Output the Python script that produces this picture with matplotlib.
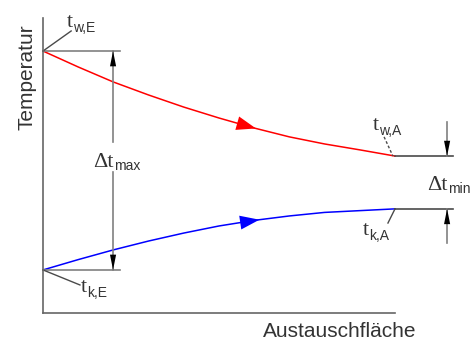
import matplotlib
matplotlib.use("Agg")
import matplotlib.pyplot as plt
import numpy as np

plt.rcParams['font.family'] = ['Liberation Sans', 'DejaVu Sans']

# Austauschfläche (normalised) and temperatures of both streams
area = [0, 0.1, 0.2, 0.3, 0.4, 0.5, 0.6, 0.7, 0.8, 0.9, 1.0]
t_warm = [88.8, 83.4, 78.3, 73.9, 69.8, 66.1, 62.7, 59.7, 57.3, 55.3, 53.2]
t_cold = [14.6, 18.1, 21.4, 24.4, 27.1, 29.5, 31.4, 32.9, 34.1, 34.7, 35.3]

GREY = '#808080'
DARK = '#4a4a4a'
TEXT = '#333333'

fig = plt.figure(figsize=(4.7, 3.4), dpi=100)
ax = fig.add_axes([43 / 470, 27 / 340, 352 / 470, 295 / 340])
ax.set_xlim(0, 1)
ax.set_ylim(0, 100)
for side in ['top', 'right']:
    ax.spines[side].set_visible(False)
for side in ['left', 'bottom']:
    ax.spines[side].set_color('#666666')
    ax.spines[side].set_linewidth(1.2)
ax.set_xticks([])
ax.set_yticks([])

ax.plot(area, t_warm, color='red', lw=1.1, clip_on=False)
ax.plot(area, t_cold, color='blue', lw=1.1, clip_on=False)


def flow_arrow(x, xs, ys, color):
    y0 = np.interp(x - 0.03, xs, ys)
    y1 = np.interp(x + 0.02, xs, ys)
    ax.annotate('', xy=(x + 0.02, y1), xytext=(x - 0.03, y0),
                arrowprops=dict(arrowstyle='-|>,head_length=1.4,head_width=0.5',
                                color=color, lw=0, mutation_scale=10,
                                shrinkA=0, shrinkB=0))


flow_arrow(0.585, area, t_warm, 'red')
flow_arrow(0.595, area, t_cold, 'blue')


def dim_arrow(x, y_from, y_to):
    # grey shaft, black head only at the tip
    ax.plot([x, x], [y_from, y_to], color=GREY, lw=1.2, clip_on=False)
    head = 5.2 * np.sign(y_to - y_from)
    ax.annotate('', xy=(x, y_to), xytext=(x, y_to - head), annotation_clip=False,
                arrowprops=dict(arrowstyle='-|>,head_length=1.1,head_width=0.22',
                                color='black', lw=0, mutation_scale=10,
                                shrinkA=0, shrinkB=0))


def sub_label(x, y, main, sub, dx, dy=-3.6, size=16, sub_size=10):
    # serif symbol with a sans-serif index set beside it
    ax.text(x, y, main, family=['Liberation Serif', 'DejaVu Serif'],
            fontsize=size, color=TEXT, va='baseline', clip_on=False)
    ax.annotate(sub, xy=(x, y), xytext=(dx, dy), textcoords='offset points',
                fontsize=sub_size, color=TEXT, va='baseline',
                annotation_clip=False)


# Δt max at the inlet
x_max = 0.199
ax.plot([0, 0.219], [t_warm[0]] * 2, color=GREY, lw=1.2, clip_on=False)
ax.plot([0, 0.219], [t_cold[0]] * 2, color=GREY, lw=1.2, clip_on=False)
dim_arrow(x_max, 58.0, t_warm[0])
dim_arrow(x_max, 47.8, t_cold[0])
sub_label(0.142, 49.5, '\u0394t', 'max', dx=15.0, dy=-2.5)

# Δt min at the outlet
x_min = 1.148
ax.plot([1.0, 1.165], [t_warm[-1]] * 2, color=DARK, lw=1.2, clip_on=False)
ax.plot([1.0, 1.165], [t_cold[-1]] * 2, color=DARK, lw=1.2, clip_on=False)
dim_arrow(x_min, 64.7, t_warm[-1])
dim_arrow(x_min, 23.7, t_cold[-1])
sub_label(1.091, 41.7, '\u0394t', 'min', dx=15.0, dy=-2.5)

# inlet / outlet labels with leader lines
ax.plot([0, 0.08], [t_warm[0], 95.6], color=DARK, lw=1.0, clip_on=False)
sub_label(0.068, 97.0, 't', 'w,E', dx=4.6)
ax.plot([0, 0.105], [t_cold[0], 9.5], color=DARK, lw=1.0, clip_on=False)
sub_label(0.108, 7.1, 't', 'k,E', dx=4.6)
ax.plot([0.969, 0.994], [59.7, t_warm[-1]], color=DARK, lw=1.0,
        ls=(0, (2, 1.5)), clip_on=False)
sub_label(0.9375, 62.0, 't', 'w,A', dx=4.6)
ax.plot([1.0, 0.98], [t_cold[-1], 30.5], color=DARK, lw=1.0, clip_on=False)
sub_label(0.909, 26.4, 't', 'k,A', dx=4.6)

ax.text(0.842, -8.1, 'Austauschfläche', fontsize=15, color=TEXT,
        ha='center', va='baseline', clip_on=False)
ax.text(-0.045, 80.0, 'Temperatur', fontsize=15, color=TEXT,
        rotation=90, ha='center', va='center', clip_on=False)

fig.savefig('out.png', dpi=100)
